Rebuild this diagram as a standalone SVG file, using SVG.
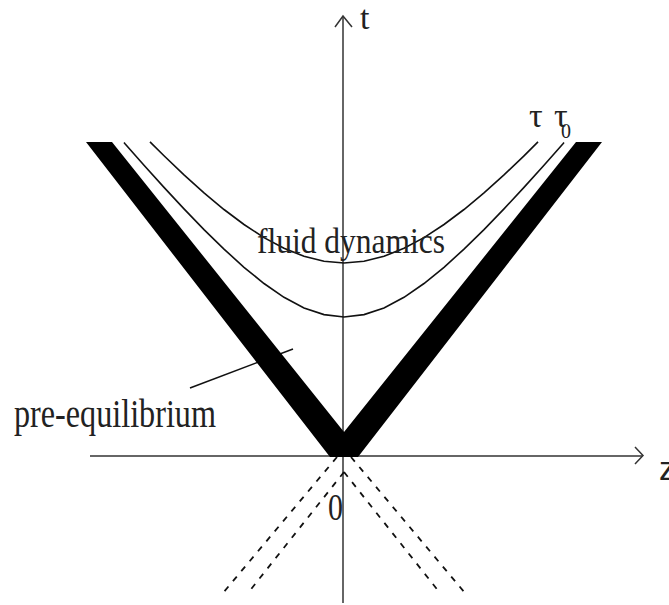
<svg xmlns="http://www.w3.org/2000/svg" width="669" height="605" viewBox="0 0 669 605">
<style>
.axis{stroke:#333;stroke-width:1.5;fill:none}
.curve{stroke:#111;stroke-width:1.6;fill:none}
.dash{stroke:#111;stroke-width:1.8;fill:none;stroke-dasharray:6 7}
.serif{font-family:"Liberation Serif","Times New Roman",serif;fill:#222}
.sans{font-family:"Liberation Sans",Arial,sans-serif;fill:#222}
</style>
<rect width="669" height="605" fill="#fff"/>
<g id="connectors">
<line class="axis" x1="90" y1="456" x2="642" y2="456"/>
<polyline class="axis" points="635,447 643,455.5 635,464"/>
<line class="axis" x1="343" y1="16" x2="343" y2="603"/>
<polyline class="axis" points="335,27 343,16 352,27"/>
<line class="dash" x1="337" y1="457" x2="223" y2="593"/>
<line class="dash" x1="351" y1="457" x2="465" y2="593"/>
<line class="dash" x1="344" y1="472" x2="248" y2="593"/>
<line class="dash" x1="344" y1="472" x2="440" y2="593"/>
<line class="curve" x1="190" y1="388" x2="293" y2="349"/>
</g>
<g id="lightcone">
<polygon points="86,142 112,142 344,432 576,142 602,142 358,457 330,457" fill="#000"/>
</g>
<g id="tau0-curve">
<polyline class="curve" points="124,142.5 125,143.7 144,165.2 164,187.4 184,208.9 204,229.6 224,249.1 244,267.3 264,283.5 284,297.3 304,307.9 324,314.6 344,317 364,314.6 384,307.9 404,297.3 424,283.5 444,267.3 464,249.1 484,229.6 504,208.9 524,187.4 544,165.2 563,143.7 564,142.5"/>
</g>
<g id="tau-curve">
<polyline class="curve" points="150,141.9 152,143.9 164,155.8 184,174.9 204,192.9 224,209.5 244,224.5 264,237.6 284,248.3 304,256.3 324,261.3 344,263 364,261.3 384,256.3 404,248.3 424,237.6 444,224.5 464,209.5 484,192.9 504,174.9 524,155.8 536,143.9 538,141.9"/>
</g>
<g id="labels">
<text class="serif" x="360" y="29" font-size="34">t</text>
<text class="sans" x="659" y="480" font-size="33">z</text>
<text class="serif" x="328" y="520" font-size="38" textLength="15" lengthAdjust="spacingAndGlyphs">0</text>
<text class="serif" x="529" y="127" font-size="34">τ</text>
<text class="serif" x="554" y="127" font-size="34">τ</text>
<text class="serif" x="561" y="138" font-size="20">0</text>
<text class="serif" x="257" y="253" font-size="36" textLength="188" lengthAdjust="spacingAndGlyphs">fluid dynamics</text>
<text class="serif" x="14" y="427" font-size="40" textLength="202" lengthAdjust="spacingAndGlyphs">pre-equilibrium</text>
</g>
</svg>
